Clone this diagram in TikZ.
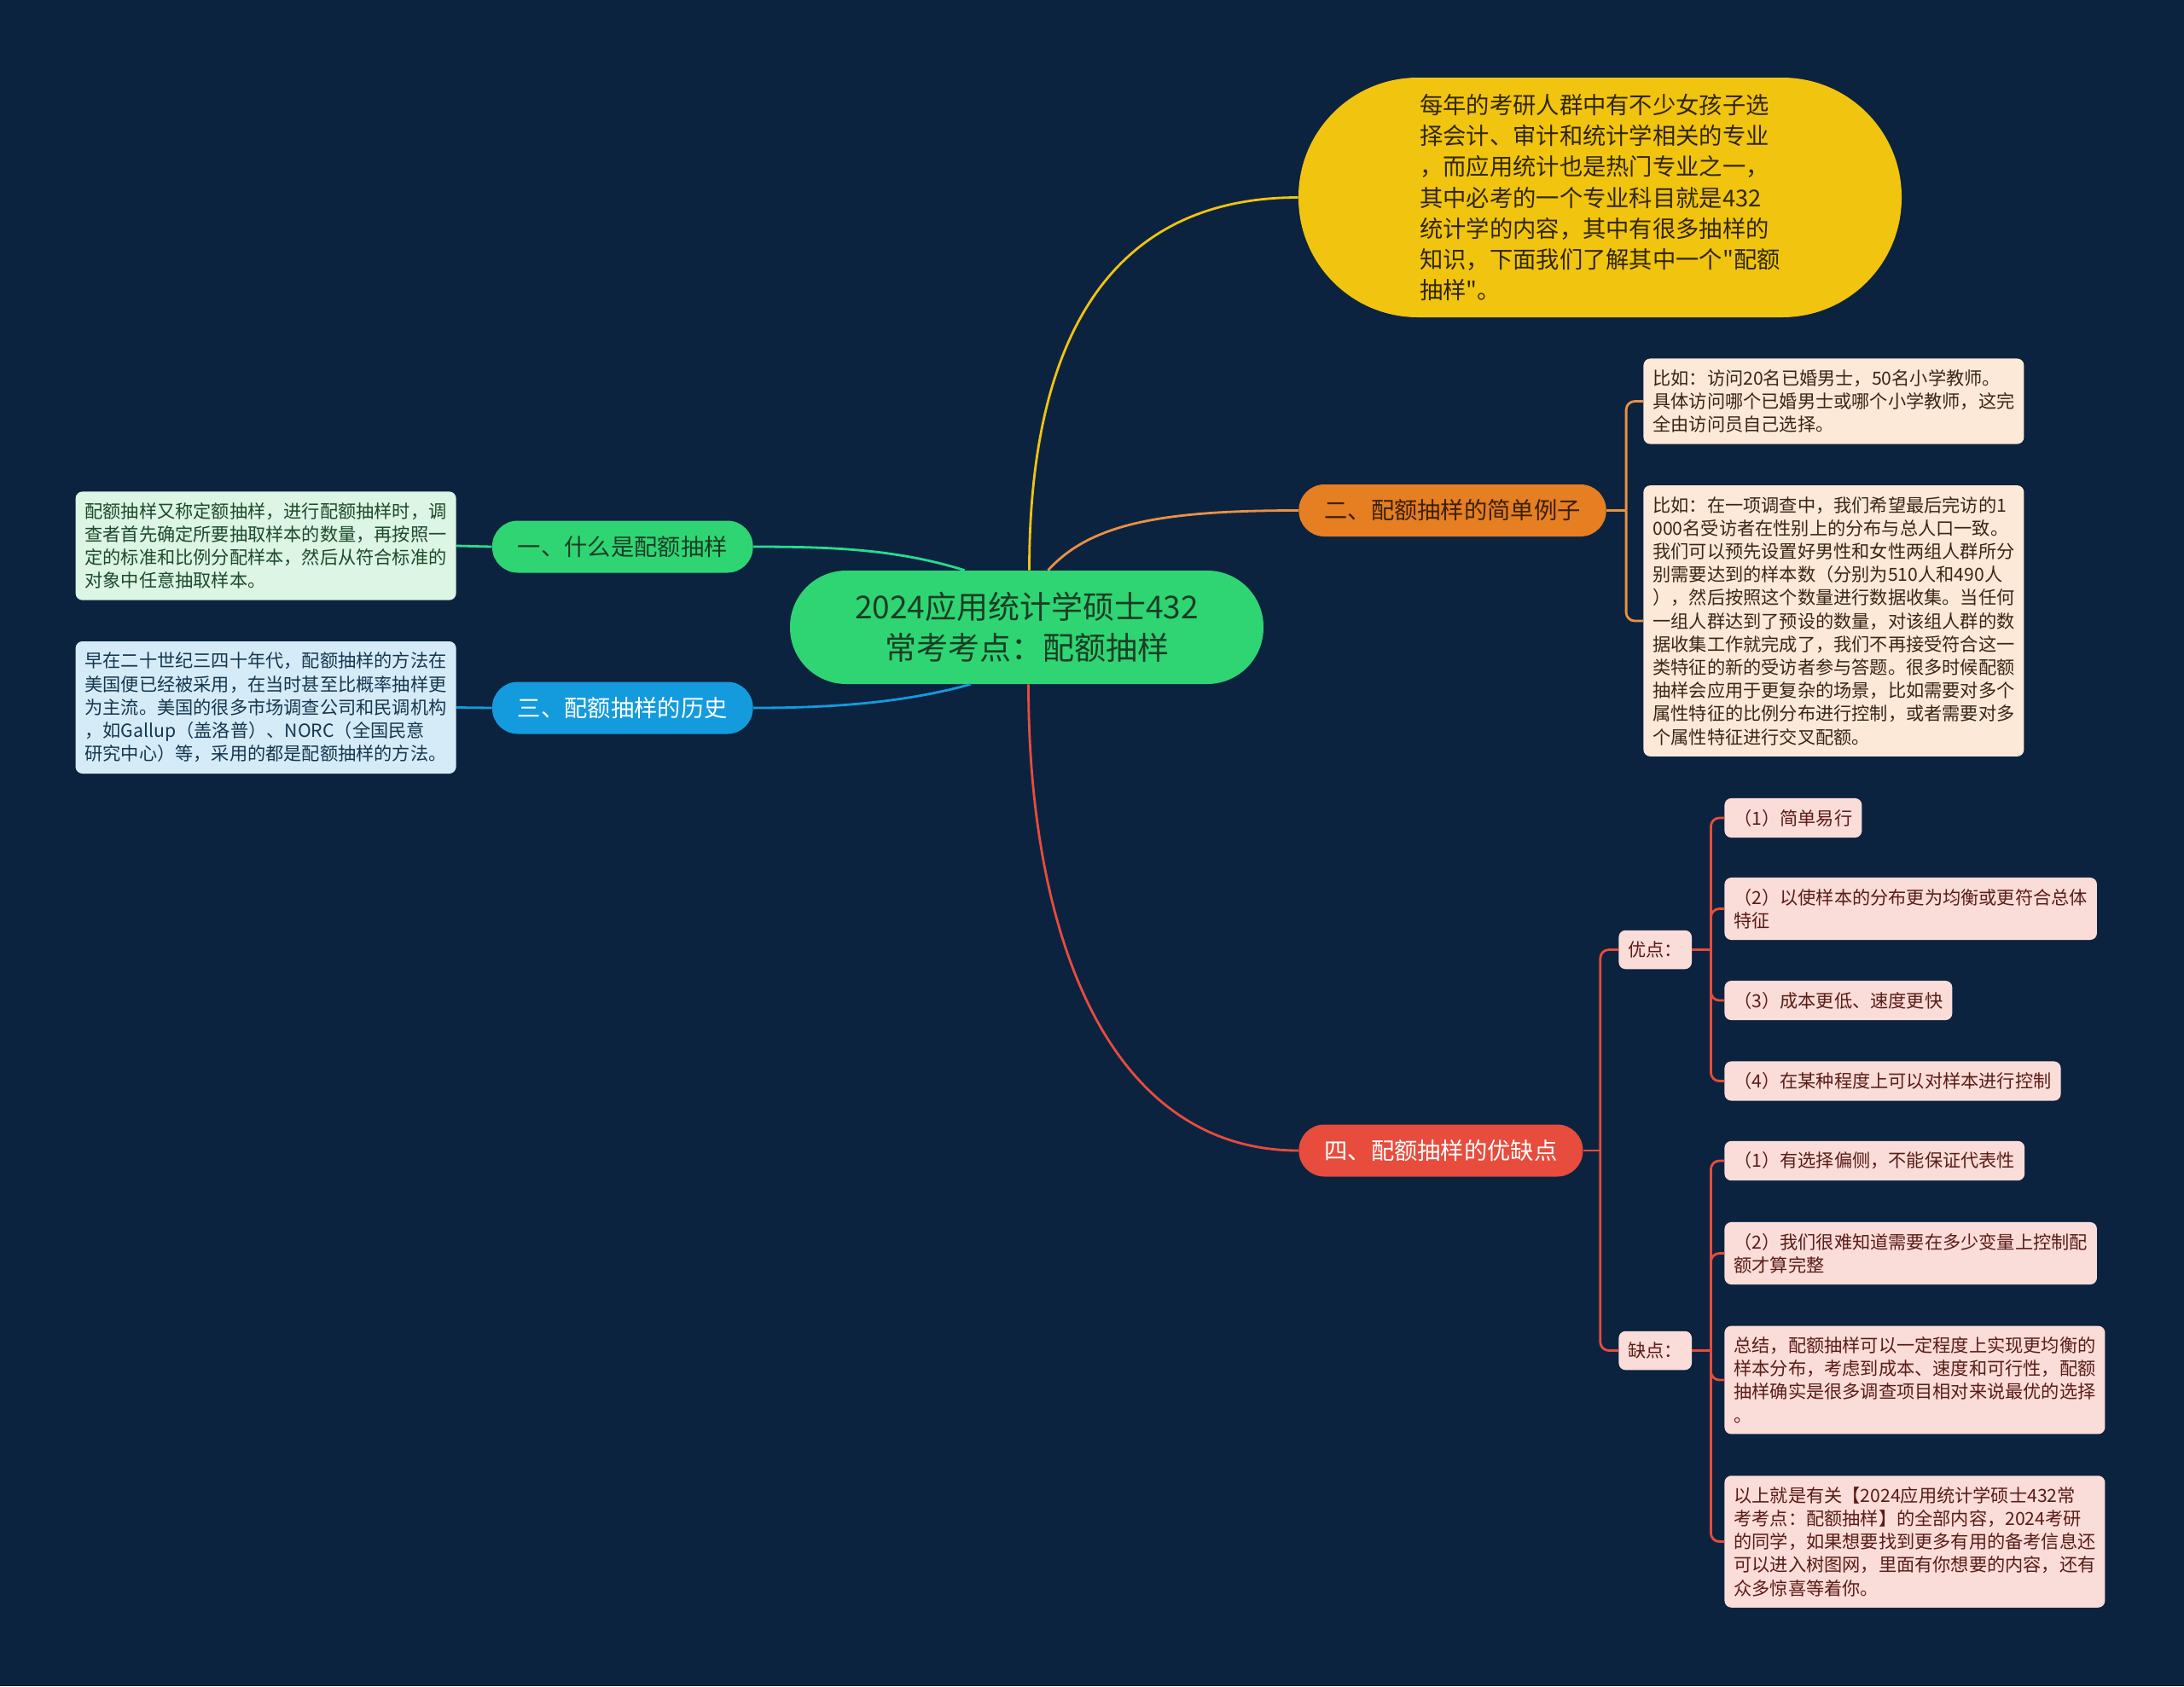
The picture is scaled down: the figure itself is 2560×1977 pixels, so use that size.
\documentclass[tikz,border=0pt]{standalone}
\usepackage{fontspec}
\setmainfont{Noto Sans CJK SC}[Ligatures=TeXOff]
\usepackage{tikz}
\usetikzlibrary{calc}

\definecolor{bg}{HTML}{0C2340}
\definecolor{cgreen}{HTML}{2FD573}
\definecolor{cgreentxt}{HTML}{1A3D25}
\definecolor{cyellow}{HTML}{F1C40F}
\definecolor{corange}{HTML}{E67E22}
\definecolor{cred}{HTML}{E74C3C}
\definecolor{cblue}{HTML}{139BDD}
\definecolor{peach}{HTML}{FCE9D8}
\definecolor{mint}{HTML}{DCF5E4}
\definecolor{sky}{HTML}{D5ECF8}
\definecolor{pink}{HTML}{FADCD9}
\definecolor{peachtxt}{HTML}{3A2616}
\definecolor{minttxt}{HTML}{1D4A2B}
\definecolor{skytxt}{HTML}{163650}
\definecolor{pinktxt}{HTML}{5A1C16}

\begin{document}
\begin{tikzpicture}[x=0.5pt,y=-0.5pt,
    topic/.style={rounded corners=15pt, minimum height=30.5pt, inner xsep=15pt,
        font=\fontsize{13.65pt}{18.1pt}\selectfont},
    leaf/.style={rounded corners=4pt, align=left, inner xsep=5.5pt, inner ysep=6.5pt,
        font=\fontsize{10.6pt}{13.6pt}\selectfont},
    link/.style={line width=1.4pt}]

\fill[bg] (0,0) rectangle (2560,1977);

% centre and main branches
\node[fill=cgreen, text=cgreentxt, rounded corners=33pt, minimum width=277.5pt,
    minimum height=66.5pt, align=center, font=\fontsize{18.5pt}{24pt}\selectfont]
    (root) at (1203.5,735.5) {2024应用统计学硕士432\\常考考点：配额抽样};

\node[fill=cyellow, text=black!80!cyellow, rounded corners=70pt, minimum width=353.5pt,
    minimum height=140.5pt, align=left, font=\fontsize{13.65pt}{18.1pt}\selectfont]
    (intro) at (1875.5,231.5) {每年的考研人群中有不少女孩子选\\择会计、审计和统计学相关的专业\\，而应用统计也是热门专业之一，\\其中必考的一个专业科目就是432\\统计学的内容，其中有很多抽样的\\知识，下面我们了解其中一个"配额\\抽样"。};

\node[topic, fill=corange, text=black!75!corange, anchor=west] (two) at (1522,598.5) {二、配额抽样的简单例子};
\node[topic, fill=cred, text=white, anchor=west] (four) at (1522,1349) {四、配额抽样的优缺点};
\node[topic, fill=cgreen, text=cgreentxt, anchor=east] (one) at (883,641) {一、什么是配额抽样};
\node[topic, fill=cblue, text=white, anchor=east] (three) at (883,830) {三、配额抽样的历史};

\draw[link, cyellow] ($(root.north)+(3,0)$) .. controls +(0,-300) and +(-200,0) .. (intro.west);
\draw[link, corange!85!white] ($(root.north)+(25,0)$) .. controls +(50,-55) and +(-160,0) .. (two.west);
\draw[link, cred] ($(root.south)+(2,0)$) .. controls +(0,300) and +(-220,0) .. (four.west);
\draw[link, cgreen!80!cyan] ($(root.north)+(-73,0)$) .. controls +(-80,-25) and +(90,0) .. (one.east);
\draw[link, cblue] ($(root.south)+(-66,0)$) .. controls +(-80,22) and +(90,0) .. (three.east);

% left leaves
\node[leaf, fill=mint, text=minttxt, anchor=east] (def) at (535,640)
    {配额抽样又称定额抽样，进行配额抽样时，调\\查者首先确定所要抽取样本的数量，再按照一\\定的标准和比例分配样本，然后从符合标准的\\对象中任意抽取样本。};
\node[leaf, fill=sky, text=skytxt, anchor=east] (hist) at (535,829.5)
    {早在二十世纪三四十年代，配额抽样的方法在\\美国便已经被采用，在当时甚至比概率抽样更\\为主流。美国的很多市场调查公司和民调机构\\，如Gallup（盖洛普）、NORC（全国民意\\研究中心）等，采用的都是配额抽样的方法。};
\draw[link, cgreen!80!cyan] (one.west) -- (def.east);
\draw[link, cblue] (three.west) -- (hist.east);

% examples
\node[leaf, fill=peach, text=peachtxt, anchor=west] (ex1) at (1926,470.5)
    {比如：访问20名已婚男士，50名小学教师。\\具体访问哪个已婚男士或哪个小学教师，这完\\全由访问员自己选择。};
\node[leaf, fill=peach, text=peachtxt, anchor=west] (ex2) at (1926,728)
    {比如：在一项调查中，我们希望最后完访的1\\000名受访者在性别上的分布与总人口一致。\\我们可以预先设置好男性和女性两组人群所分\\别需要达到的样本数（分别为510人和490人\\），然后按照这个数量进行数据收集。当任何\\一组人群达到了预设的数量，对该组人群的数\\据收集工作就完成了，我们不再接受符合这一\\类特征的新的受访者参与答题。很多时候配额\\抽样会应用于更复杂的场景，比如需要对多个\\属性特征的比例分布进行控制，或者需要对多\\个属性特征进行交叉配额。};
\coordinate (k2) at ([xshift=11.5pt]two.east);
\draw[link, corange!85!white] (two.east) -- (k2);
\foreach \n in {ex1,ex2}
    \draw[link, corange!85!white, rounded corners=5pt] (k2) |- (\n.west);

% pros and cons
\tikzset{pk/.style={leaf, fill=pink, text=pinktxt, anchor=west}}
\node[pk] (pro) at (1897,1113.5) {优点：};
\node[pk] (con) at (1897,1583.5) {缺点：};
\node[pk] (p1) at (2021,959) {（1）简单易行};
\node[pk] (p2) at (2021,1065.5) {（2）以使样本的分布更为均衡或更符合总体\\特征};
\node[pk] (p3) at (2021,1173) {（3）成本更低、速度更快};
\node[pk] (p4) at (2021,1267.5) {（4）在某种程度上可以对样本进行控制};
\node[pk] (c1) at (2021,1361) {（1）有选择偏侧，不能保证代表性};
\node[pk] (c2) at (2021,1469.5) {（2）我们很难知道需要在多少变量上控制配\\额才算完整};
\node[pk] (c3) at (2021,1618) {总结，配额抽样可以一定程度上实现更均衡的\\样本分布，考虑到成本、速度和可行性，配额\\抽样确实是很多调查项目相对来说最优的选择\\。};
\node[pk] (c4) at (2021,1807.5) {以上就是有关【2024应用统计学硕士432常\\考考点：配额抽样】的全部内容，2024考研\\的同学，如果想要找到更多有用的备考信息还\\可以进入树图网，里面有你想要的内容，还有\\众多惊喜等着你。};

\coordinate (k4) at ([xshift=10pt]four.east);
\draw[link, cred] (four.east) -- (k4);
\foreach \n in {pro,con}
    \draw[link, cred, rounded corners=5pt] (k4) |- (\n.west);
\coordinate (kp) at ([xshift=11pt]pro.east);
\draw[link, cred] (pro.east) -- (kp);
\foreach \n in {p1,p2,p3,p4}
    \draw[link, cred, rounded corners=5pt] (kp) |- (\n.west);
\coordinate (kc) at ([xshift=11pt]con.east);
\draw[link, cred] (con.east) -- (kc);
\foreach \n in {c1,c2,c3,c4}
    \draw[link, cred, rounded corners=5pt] (kc) |- (\n.west);
\end{tikzpicture}
\end{document}
